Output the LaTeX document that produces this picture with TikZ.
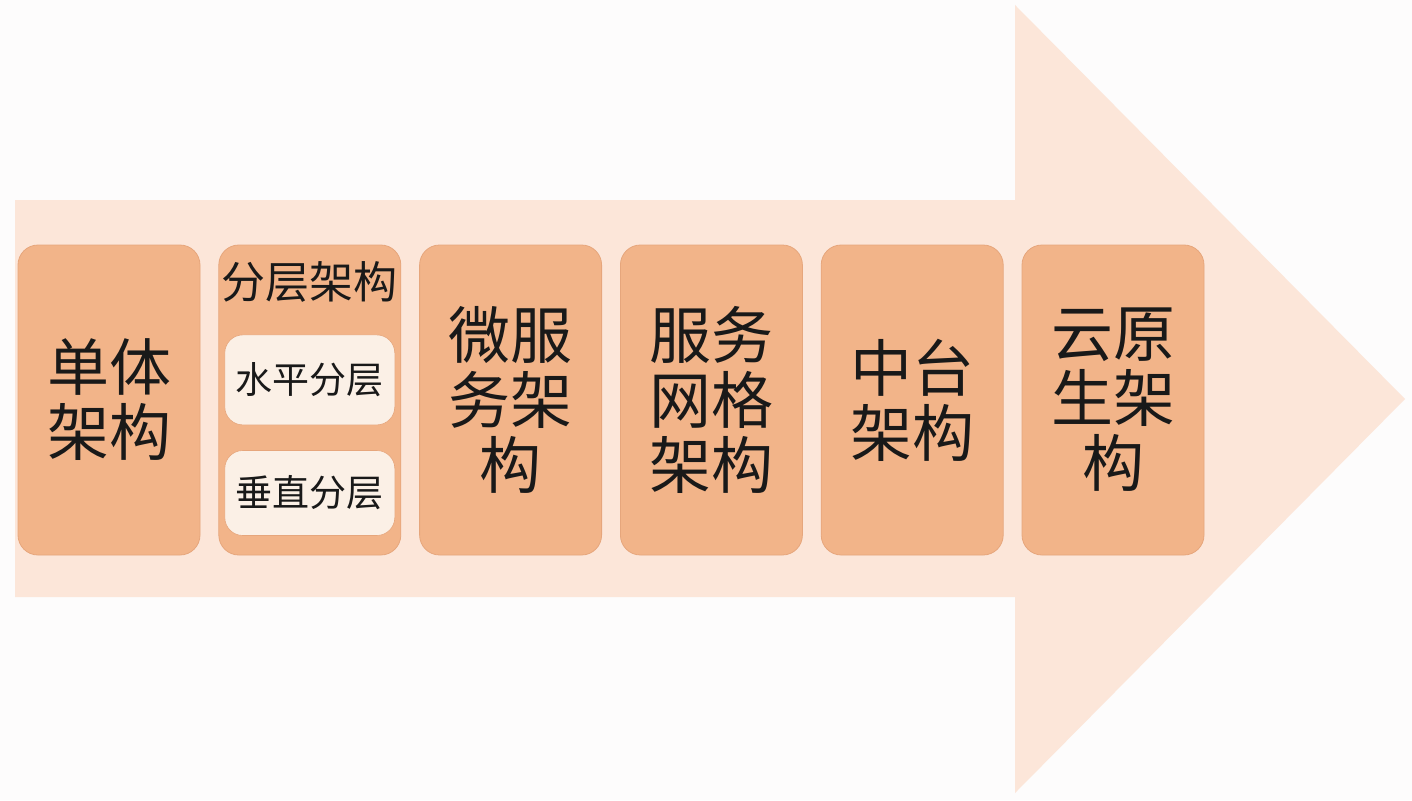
\documentclass[tikz,border=0pt]{standalone}
\usepackage{fontspec}
\newfontfamily\cjk{Noto Sans CJK SC}
\usetikzlibrary{positioning}
\definecolor{arrowfill}{HTML}{FCE6D9}
\definecolor{boxfill}{HTML}{F2B489}
\definecolor{boxline}{HTML}{E6A67C}
\definecolor{innerfill}{HTML}{FBF0E6}
\definecolor{pagebg}{HTML}{FDFCFC}

\begin{document}
\begin{tikzpicture}[node distance=9pt,
        stage/.style={rectangle,rounded corners=10pt,minimum width=91pt,minimum height=155pt,
                      fill=boxfill,draw=boxline,line width=0.4pt,align=center,
                      font=\cjk\fontsize{31pt}{32.5pt}\selectfont,text=black!90},
        layer/.style={rectangle,rounded corners=9pt,minimum width=85pt,
                      fill=innerfill,draw=boxline,line width=0.3pt,
                      font=\cjk\fontsize{18.5pt}{20pt}\selectfont,text=black!90},
        caption/.style={font=\cjk\fontsize{22pt}{24pt}\selectfont,text=black!90}
        ]
        \fill[pagebg] (0,0) rectangle (706pt,400pt);
        \useasboundingbox (0,0) rectangle (706pt,400pt);
        % big arrow
        \fill[arrowfill] (7.5pt,300pt) -- (507.5pt,300pt) -- (507.5pt,397.5pt) -- (702.5pt,200.5pt)
            -- (507.5pt,3.5pt) -- (507.5pt,101.5pt) -- (7.5pt,101.5pt) -- cycle;
        % stages
        \node (mono)  [stage] at (54.5pt,200pt) {单体\\架构};
        \node (layer) [stage, right=of mono]  {};
        \node (micro) [stage, right=of layer] {微服\\务架\\构};
        \node (mesh)  [stage, right=of micro] {服务\\网格\\架构};
        \node (mid)   [stage, right=of mesh]  {中台\\架构};
        \node (cloud) [stage, right=of mid]   {云原\\生架\\构};
        % layered architecture
        \node (lname) [caption, below=5pt of layer.north] {分层架构};
        \node (hori)  [layer, minimum height=45pt, below=45pt of layer.north] {水平分层};
        \node (vert)  [layer, minimum height=42.5pt, below=12.5pt of hori] {垂直分层};
\end{tikzpicture}
\end{document}
